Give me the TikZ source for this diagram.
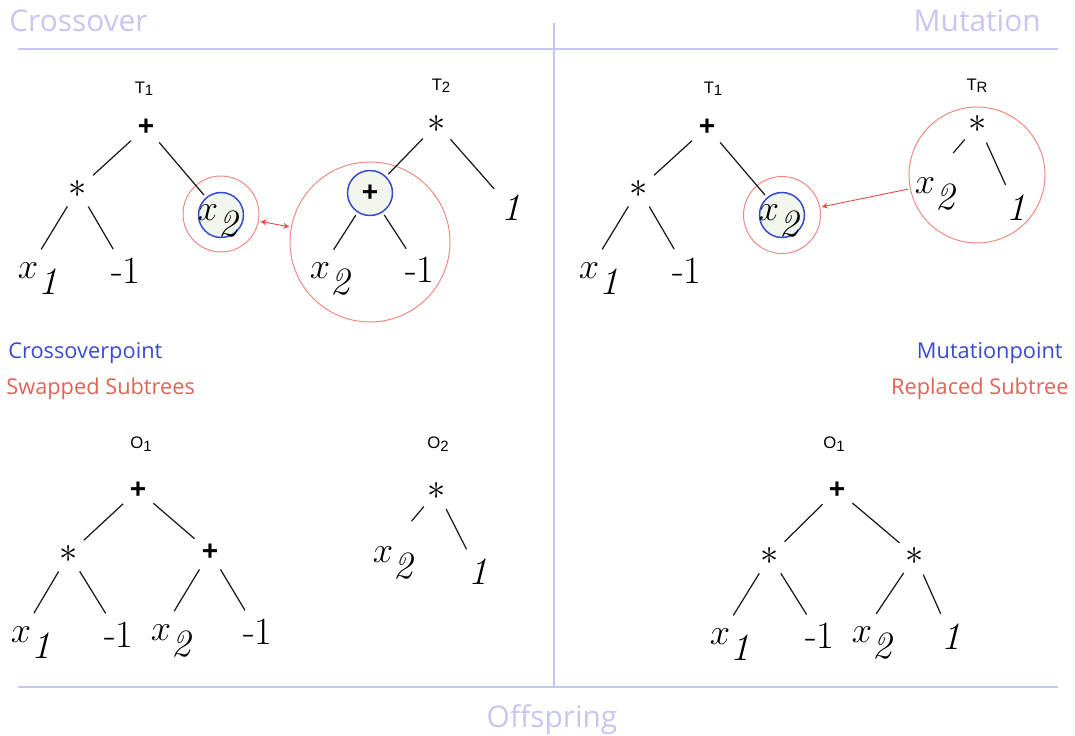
\documentclass[tikz,border=0pt]{standalone}
\usepackage{fontspec}
\usetikzlibrary{arrows}
\newfontfamily\headfont{Open Sans}
\newfontfamily\labfont{Liberation Sans}
\definecolor{lav}{RGB}{198,198,240}
\definecolor{ptblue}{RGB}{55,75,205}
\definecolor{stred}{RGB}{222,100,85}
\definecolor{ringred}{RGB}{238,135,125}
\definecolor{arrred}{RGB}{228,70,70}
\definecolor{ptfill}{RGB}{240,246,236}
\newcommand{\sublab}[2]{#1\raisebox{-1.4pt}{\fontsize{8.5}{9}\selectfont #2}}
\newcommand{\xv}[1]{$x$\rlap{\smash{\raisebox{-0.4em}{$\mathit{#1}$}}}}

\begin{document}
\begin{tikzpicture}[x=0.02cm,y=-0.02cm,>=stealth,
  op/.style={circle,inner sep=0pt,minimum size=0.68cm,font=\labfont\bfseries\fontsize{16}{18}\selectfont},
  ast/.style={circle,inner sep=0pt,minimum size=0.68cm,font=\fontsize{22}{23}\selectfont},
  leaf/.style={circle,inner sep=0pt,minimum size=0.88cm,font=\fontsize{22}{24}\selectfont},
  tname/.style={inner sep=0pt,font=\labfont\fontsize{9.5}{11}\selectfont},
  xpt/.style={circle,draw=ptblue,fill=ptfill,line width=0.85pt,minimum size=0.9cm,inner sep=0pt},
  ring/.style={circle,draw=ringred,line width=0.55pt,inner sep=0pt},
  link/.style={line width=0.7pt,black!90,shorten <=1.7pt,shorten >=1.7pt},
  swap/.style={arrred,line width=0.5pt,shorten <=1pt,shorten >=1pt},
  head/.style={inner sep=0pt,text=lav,font=\headfont\fontsize{17}{19}\selectfont},
  key/.style={inner sep=0pt,font=\headfont\fontsize{12.4}{14}\selectfont}]
\useasboundingbox (0,0) rectangle (1075,736);

\draw[lav,line width=1pt] (18,49) -- (1058,49);
\draw[lav,line width=1pt] (18,687) -- (1058,687);
\draw[lav,line width=1pt] (554,23) -- (554,687);
\node[head,anchor=base west] (hcross) at (9,32) {Crossover};
\node[head,anchor=base east] (hmut) at (1041,32) {Mutation};
\node[head,anchor=base] (hoff) at (552,727) {Offspring};

\node[key,text=ptblue,anchor=base west] (kcp) at (8,358) {Crossoverpoint};
\node[key,text=stred,anchor=base west] (ksw) at (6,395) {Swapped Subtrees};
\node[key,text=ptblue,anchor=base east] (kmp) at (1063,358) {Mutationpoint};
\node[key,text=stred,anchor=base east] (krs) at (1069,395) {Replaced Subtree};

\node[ring,minimum size=1.52cm] (asw) at (221,214) {};
\node[ring,minimum size=3.2cm] (bsw) at (370,242) {};
\node[ring,minimum size=1.54cm] (crp) at (782,215) {};
\node[ring,minimum size=2.72cm] (drp) at (977,175) {};
\draw[swap,<->] (asw) -- (bsw);
\draw[swap,->] (drp) -- (crp);

\node[tname] (aT) at (144,89) {\sublab{T}{1}};
\node[op] (ap) at (146,127) {+};
\node[ast] (am) at (78,189) {$\ast$};
\node[xpt] (acp) at (221,215) {};
\node[leaf] (ax2) at (208,213) {\xv{2}};
\node[leaf] (ax1) at (28,271) {\xv{1}};
\node[leaf] (an) at (126,271) {-1};
\draw[link] (ap) -- (am);
\draw[link] (ap) -- (acp);
\draw[link] (am) -- (ax1);
\draw[link] (am) -- (an);

\node[tname] (bT) at (441,86) {\sublab{T}{2}};
\node[ast] (bm) at (437,124) {$\ast$};
\node[xpt,font=\labfont\bfseries\fontsize{16}{18}\selectfont] (bcp) at (370,193) {+};
\node[leaf] (bone) at (511,208) {$\mathit{1}$};
\node[leaf] (bx2) at (320,271) {\xv{2}};
\node[leaf] (bn) at (420,270) {-1};
\draw[link] (bm) -- (bcp);
\draw[link] (bm) -- (bone);
\draw[link] (bcp) -- (bx2);
\draw[link] (bcp) -- (bn);

\node[tname] (cT) at (713,89) {\sublab{T}{1}};
\node[op] (cp) at (707,127) {+};
\node[ast] (cm) at (639,189) {$\ast$};
\node[xpt] (ccp) at (782,215) {};
\node[leaf] (cx2) at (769,213) {\xv{2}};
\node[leaf] (cx1) at (589,271) {\xv{1}};
\node[leaf] (cn) at (687,271) {-1};
\draw[link] (cp) -- (cm);
\draw[link] (cp) -- (ccp);
\draw[link] (cm) -- (cx1);
\draw[link] (cm) -- (cn);

\node[tname] (dT) at (977,86) {\sublab{T}{R}};
\node[ast] (dm) at (978,124) {$\ast$};
\node[leaf] (dx2) at (925,186) {\xv{2}};
\node[leaf] (done) at (1016,208) {$\mathit{1}$};
\draw[link,shorten >=0.42cm] (dm) -- (dx2);
\draw[link] (dm) -- (done);

\node[tname] (eT) at (141,444) {\sublab{O}{1}};
\node[op] (ep) at (138,490) {+};
\node[ast] (em) at (69,554) {$\ast$};
\node[op] (ep2) at (210,552) {+};
\node[leaf] (ex1) at (21,635) {\xv{1}};
\node[leaf] (en) at (119,635) {-1};
\node[leaf] (ex2) at (161,633) {\xv{2}};
\node[leaf] (en2) at (258,632) {-1};
\draw[link] (ep) -- (em);
\draw[link] (ep) -- (ep2);
\draw[link] (em) -- (ex1);
\draw[link] (em) -- (en);
\draw[link] (ep2) -- (ex2);
\draw[link] (ep2) -- (en2);

\node[tname] (fT) at (438,444) {\sublab{O}{2}};
\node[ast] (fm) at (437,491) {$\ast$};
\node[leaf] (fx2) at (383,555) {\xv{2}};
\node[leaf] (fone) at (478,572) {$\mathit{1}$};
\draw[link,shorten >=0.44cm] (fm) -- (fx2);
\draw[link] (fm) -- (fone);

\node[tname] (gT) at (834,444) {\sublab{O}{1}};
\node[op] (gp) at (837,490) {+};
\node[ast] (gm) at (770,556) {$\ast$};
\node[ast] (gm2) at (915,556) {$\ast$};
\node[leaf] (gx1) at (720,637) {\xv{1}};
\node[leaf] (gn) at (820,636) {-1};
\node[leaf] (gx2) at (862,635) {\xv{2}};
\node[leaf] (gone) at (951,637) {$\mathit{1}$};
\draw[link] (gp) -- (gm);
\draw[link] (gp) -- (gm2);
\draw[link] (gm) -- (gx1);
\draw[link] (gm) -- (gn);
\draw[link] (gm2) -- (gx2);
\draw[link] (gm2) -- (gone);
\end{tikzpicture}
\end{document}
